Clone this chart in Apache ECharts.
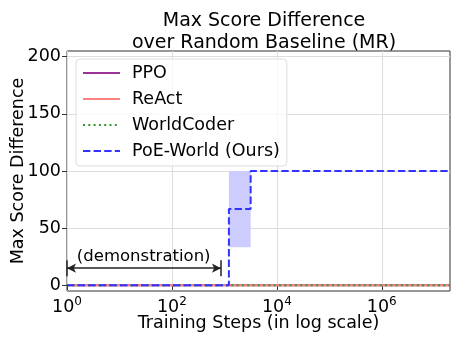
<!DOCTYPE html>
<html>
<head>
<meta charset="utf-8">
<script src="https://cdn.jsdelivr.net/npm/echarts@6/dist/echarts.min.js"></script>
<style>
  html, body { margin: 0; padding: 0; background: #fff; }
  #chart { width: 459px; height: 344px; }
</style>
</head>
<body>
<div id="chart"></div>
<script>
// training steps (x, log scale) and max score difference (y)
var flatSteps = [1, 2e7];
var ppoScores = [0, 0];
var reactScores = [0, 0];
var worldCoderScores = [0, 0];

var poeSteps = [1, 1220, 3170, 2e7];
var poeMean = [0, 66.7, 100, 100];
// shaded spread around the PoE-World mean
var bandSteps = [1220, 3170];
var bandLow = 33.3;
var bandHigh = 100;

var xTicks = [1, 100, 1e4, 1e6];
var yTicks = [0, 50, 100, 150, 200];

// demonstration arrow span
var demoStart = 1, demoEnd = 860, demoY = 15;
var demoLabelX = 29, demoLabelY = 25;

var font = 'DejaVu Sans';

function pairs(xs, ys) {
  return xs.map(function (x, i) { return [x, ys[i]]; });
}

var chart = echarts.init(document.getElementById('chart'));

var option = {
  animation: false,
  title: {
    text: 'Max Score Difference\nover Random Baseline (MR)',
    left: 259,
    top: 5,
    textAlign: 'center',
    textStyle: { fontFamily: font, fontSize: 19, fontWeight: 'normal', color: '#000', lineHeight: 22 }
  },
  grid: {
    left: 67, right: 9, top: 51, bottom: 53,
    outerBoundsMode: 'none',
    containLabel: false,
    show: true, borderColor: '#333', borderWidth: 1
  },
  legend: {
    data: ['PPO', 'ReAct', 'WorldCoder', 'PoE-World (Ours)'],
    orient: 'vertical',
    left: 76, top: 59,
    itemWidth: 37, itemHeight: 10, itemGap: 6,
    padding: [4, 7, 5, 6],
    borderColor: '#ddd', borderWidth: 1, borderRadius: 4,
    backgroundColor: 'rgba(255,255,255,0.8)',
    itemStyle: { opacity: 0 },
    textStyle: { fontFamily: font, fontSize: 17.5, lineHeight: 20, color: '#000', padding: [0, 0, 0, 7] }
  },
  xAxis: {
    type: 'log',
    logBase: 10,
    min: 1,
    max: 2e7,
    name: 'Training Steps (in log scale)',
    nameLocation: 'middle',
    nameGap: 23,
    nameMoveOverlap: false,
    nameTextStyle: { fontFamily: font, fontSize: 17.5, color: '#000' },
    axisLine: { show: false },
    axisTick: { show: true, customValues: xTicks, length: 5, lineStyle: { color: '#333' } },
    axisLabel: {
      customValues: xTicks,
      margin: 5,
      fontFamily: font, fontSize: 17.5, color: '#000',
      formatter: function (v) {
        return '10{sup|' + Math.round(Math.log10(v)) + '}';
      },
      rich: { sup: { fontFamily: font, fontSize: 12, color: '#000', verticalAlign: 'bottom', padding: [0, 0, 10, 0] } }
    },
    splitLine: { show: true, lineStyle: { color: '#ddd', width: 1 } }
  },
  yAxis: {
    type: 'value',
    min: -5,
    max: 205,
    name: 'Max Score Difference',
    nameLocation: 'middle',
    nameGap: 40,
    nameMoveOverlap: false,
    nameTextStyle: { fontFamily: font, fontSize: 17.5, color: '#000' },
    axisLine: { show: false },
    axisTick: { show: true, customValues: yTicks, length: 5, lineStyle: { color: '#333' } },
    axisLabel: { customValues: yTicks, margin: 6, fontFamily: font, fontSize: 17.5, color: '#000' },
    splitLine: { show: true, lineStyle: { color: '#ddd', width: 1 } }
  },
  series: [
    {
      name: 'PPO', type: 'line', symbol: 'none',
      data: pairs(flatSteps, ppoScores),
      itemStyle: { color: '#993399' },
      lineStyle: { color: '#993399', width: 2 }
    },
    {
      name: 'ReAct', type: 'line', symbol: 'none',
      data: pairs(flatSteps, reactScores),
      itemStyle: { color: '#ff8080' },
      lineStyle: { color: '#ff8080', width: 2 }
    },
    {
      name: 'WorldCoder', type: 'line', symbol: 'none',
      data: pairs(flatSteps, worldCoderScores),
      itemStyle: { color: '#339933' },
      lineStyle: { color: '#339933', width: 2, type: [2, 3.3] }
    },
    {
      name: 'band', type: 'custom', silent: true,
      data: [[bandSteps[0], bandSteps[1], bandLow, bandHigh]],
      encode: { x: [0, 1], y: [2, 3] },
      renderItem: function (params, api) {
        var a = api.coord([api.value(0), api.value(3)]);
        var b = api.coord([api.value(1), api.value(2)]);
        return {
          type: 'rect',
          shape: { x: a[0], y: a[1], width: b[0] - a[0], height: b[1] - a[1] },
          style: { fill: '#ccccff' }
        };
      },
      z: 1
    },
    {
      name: 'PoE-World (Ours)', type: 'line', step: 'end', symbol: 'none',
      data: pairs(poeSteps, poeMean),
      itemStyle: { color: '#3333ff' },
      lineStyle: { color: '#3333ff', width: 2, type: [7.4, 3.2] },
      z: 5
    },
    {
      name: 'demo', type: 'scatter', symbolSize: 0,
      data: [[demoLabelX, demoLabelY]],
      itemStyle: { opacity: 1 },
      label: {
        show: true, position: 'inside', formatter: '(demonstration)',
        fontFamily: font, fontSize: 16.5, color: '#000'
      },
      markLine: {
        silent: true,
        symbol: ['none', 'none'],
        lineStyle: { color: '#222', width: 1.5, type: 'solid' },
        label: { show: false },
        data: [
          [{ coord: [demoStart, demoY], symbol: 'arrow', symbolSize: [7, 9] },
           { coord: [demoEnd, demoY], symbol: 'arrow', symbolSize: [7, 9] }],
          [{ coord: [demoStart, demoY - 7] }, { coord: [demoStart, demoY + 7] }],
          [{ coord: [demoEnd, demoY - 7] }, { coord: [demoEnd, demoY + 7] }]
        ]
      }
    }
  ]
};

chart.setOption(option);
</script>
</body>
</html>
